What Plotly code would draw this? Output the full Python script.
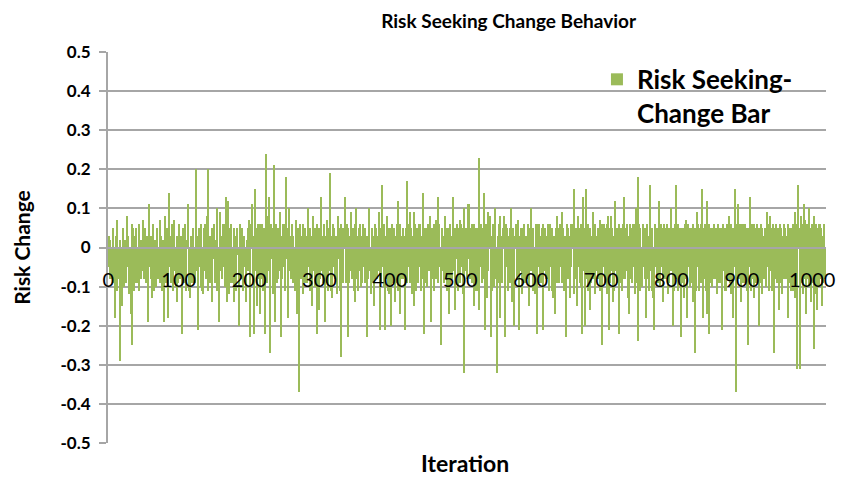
import plotly.graph_objects as go

# Risk seeking change per iteration (in hundredths)
change_rows = [
    [-5, 3, -8, 2, -8, -3, 5, -9, -2, -6, -18, 3, -11, 7, -5, -8, -29, 2, -9, -15],
    [-6, 5, -3, -10, 2, -9, 8, -5, 3, -12, -2, -8, -17, 6, -25, 5, -11, 3, -6, -9],
    [5, -9, -3, 6, -11, -5, 2, -8, -6, 7, -3, -8, 5, -9, -2, 3, -19, -9, 11, -5],
    [-8, 3, -13, -5, 6, -11, 2, -6, -10, 5, -3, -8, -8, 7, -9, 3, -5, -11, 2, -19],
    [-3, 8, -9, 5, -6, -18, 14, -5, 3, -9, -8, 6, -11, -2, 7, -6, -10, -14, 3, -9],
    [6, -5, -8, 3, -8, -22, 5, -9, -3, 6, -11, -6, 2, 11, -11, -5, -13, 3, -8, -9],
    [5, -9, -3, -9, 20, -6, 3, -21, -8, 5, -5, -10, 6, -11, -2, -12, 5, 6, -6, -8],
    [8, -11, 20, -5, 3, -9, -6, -14, 5, -3, 6, -9, -8, 2, 10, -11, -5, -19, 9, -6],
    [3, -8, -8, 6, -5, 6, -10, 13, -14, 5, 12, -12, -6, 5, -9, 6, -3, -9, -14, 5],
    [-6, 3, -11, 5, -2, -9, -20, 6, -8, -3, 5, -9, -11, 3, -5, -8, -14, 2, -6, 5],
    [7, -5, -23, 6, 11, -9, 3, -22, 15, -6, 5, -15, -3, 6, -8, 6, -17, 5, -8, 6],
    [-11, 5, -5, -22, 24, 6, -9, 8, -6, 13, -27, 6, -3, 5, -12, 5, 21, -19, 6, -9],
    [5, -8, 5, -6, 9, 3, -23, -8, 6, -5, 6, -11, -3, 18, 5, -18, -9, 10, -6, 3],
    [-8, 6, -9, 3, -5, -11, 7, -9, -17, 5, -6, -37, 6, -8, 3, -8, 6, -12, -3, 5],
    [-9, 3, -9, 6, 10, -5, -11, 5, -8, -15, 3, 8, -6, -10, 5, -3, -22, 6, -9, -16],
    [5, -8, 13, -6, 3, -9, 6, -5, -19, 3, 7, -9, -11, 5, -6, 19, -11, 3, -13, 6],
    [-5, 5, -8, 3, -8, -12, 8, -3, 5, -11, 6, -28, -6, 5, -9, 3, 13, -9, -5, 6],
    [-23, 5, -9, 3, -6, 9, -8, 5, -3, -11, -14, 6, 10, -8, 3, -11, 5, -6, 6, -10],
    [3, -9, 6, -5, -9, 5, -8, -23, 3, -8, 5, 10, -6, -12, 5, -9, 3, -5, -15, 6],
    [-8, 5, -8, 3, 9, -6, -21, 5, -9, 16, -5, -10, 6, -21, 3, -8, 8, -11, 5, -12],
    [5, -20, -6, 6, -5, -9, 5, -14, 3, -9, 6, -11, 12, -5, -17, 6, -8, 3, -8, 5],
    [-6, 3, -21, 5, 17, -9, -5, 6, 9, -9, 5, -8, -12, 3, 9, -15, 6, -11, 5, -6],
    [-9, 6, -5, 6, -11, 3, -8, 14, -22, 5, -9, 5, -3, -10, 6, -6, 5, 8, -11, -19],
    [5, -8, -11, 6, -5, 7, -8, 3, 13, -9, 6, -5, -13, -25, 5, -6, 3, -9, 8, -8],
    [5, -11, 5, -5, -17, 6, -10, 3, -8, 13, -6, 5, -8, -16, 5, -3, 6, -11, 5, 7],
    [-9, 6, -5, 5, -12, -32, 10, -6, 5, -8, 5, 11, -3, 11, -8, 5, -9, 6, -9, -15],
    [6, -11, 5, -6, -11, 5, 23, -16, 6, -5, 6, -9, -8, 5, 14, -21, 6, -9, -13, 9],
    [-6, 5, 8, -23, 3, -11, 6, -5, -10, 10, 5, -8, -32, 3, -9, 6, -18, 8, -6, 3],
    [-9, 5, 8, -8, -23, 6, -5, 5, -11, 3, -9, 5, 10, -6, -14, 5, -11, -20, 3, 6],
    [-8, 5, 7, -8, -21, 3, 5, -6, -12, 5, -9, 6, -5, -9, 3, -8, 6, -3, -15, 5],
    [10, -6, 5, -11, 5, -5, -12, 6, -8, -22, 6, -5, 6, -9, 3, -9, 5, 6, -21, 5],
    [-6, 5, -8, 3, 6, -8, -11, 6, -5, 5, -11, 5, -13, 3, -6, -17, 5, 8, -9, 5],
    [-9, 6, -5, 5, 9, -9, 5, -11, -6, 3, -23, 6, -8, 5, -8, 3, -13, 6, -5, 5],
    [6, -12, 15, -8, 5, -8, -15, 8, -5, 5, -9, 6, -10, -22, 13, -6, 5, -20, 15, -8],
    [5, -11, 6, -5, -16, 5, -9, 3, 9, -8, 5, -12, 6, -6, 3, -8, 5, -5, -11, 7],
    [-8, -25, 6, -5, 6, -9, 5, -8, 6, -12, 8, -21, 5, -9, 8, -6, 5, -14, 3, -11],
    [12, -6, 5, -9, 5, -22, 6, -9, 5, -5, -11, 6, -8, 13, -8, 5, -6, 6, -13, 3],
    [-17, 6, -8, 5, -9, 6, -5, 6, -12, 10, -9, 5, 18, -24, 6, -11, 5, -8, -10, 6],
    [-5, 5, -8, 5, -18, 6, -8, 3, -11, 16, -6, 5, -11, 5, -13, -21, 6, -5, 5, -9],
    [5, -9, 12, -6, -10, 6, -5, 5, -14, 6, -8, 5, -8, 6, -5, -12, 5, -9, 5, 10],
    [-6, 5, -20, 5, -11, 6, 16, -8, 5, -11, 6, -9, 5, -23, 5, -6, -9, 5, -13, 6],
    [7, -8, -18, 6, -5, 5, -10, 5, -9, 5, -14, 6, -6, -27, 5, -11, 9, -5, 6, -11],
    [5, -9, 6, -9, 15, -18, 5, -8, 6, -11, -17, 12, -5, -22, 6, -9, 5, -10, 5, -6],
    [6, -8, 5, -8, 5, -12, 6, -5, -9, 5, 5, -9, -21, 6, -6, 5, -11, 5, -11, 6],
    [-8, 5, 8, -9, 6, -12, 5, -6, -18, 5, -5, 15, -37, 6, 11, -8, 5, -8, 6, -14],
    [6, -9, 5, 6, -9, 6, -6, 5, -11, -25, 5, -5, 13, -11, 6, -8, 5, -13, 6, -9],
    [5, -9, 6, -6, -20, 5, -9, 6, -12, 5, -8, 3, -8, 5, -6, -10, 9, -5, 6, -11],
    [8, -6, 5, -11, 6, -9, -27, 5, -8, 6, -9, 5, -6, -16, 6, -9, 5, -12, 3, -8],
    [6, -8, 5, -8, 3, -18, 6, -9, -5, 5, -11, 5, -11, 6, -6, 9, -13, 5, -31, 6],
    [16, 5, -9, -31, 8, -9, 6, -12, 11, -8, 7, -17, 6, -8, 6, 10, -10, 5, -14, 6],
    [-9, 5, 8, -26, -9, 6, -12, -16, 5, 6, -10, 6, -8, 5, -15, 3, -9, 6, -8, -5],
]
risk_change = [v / 100 for row in change_rows for v in row]
iterations = list(range(len(risk_change)))

x_ticks = [0, 100, 200, 300, 400, 500, 600, 700, 800, 900, 1000]
y_ticks = [0.5, 0.4, 0.3, 0.2, 0.1, 0, -0.1, -0.2, -0.3, -0.4, -0.5]
y_labels = ["0.5", "0.4", "0.3", "0.2", "0.1", "0", "-0.1", "-0.2", "-0.3", "-0.4", "-0.5"]

GREEN = "#9BBB59"
GRID = "#A6A6A6"
FONT = "Lato"

fig = go.Figure()
# bars are a bit wider than one slot so neighbours overlap, like Excel's 1px minimum
fig.add_trace(go.Bar(
    x=iterations, y=risk_change, width=1.6,
    name="<b>Risk Seeking-<br>Change Bar</b>",
    marker=dict(color=GREEN, line=dict(width=0)),
))

# page body has an 8px margin, so the figure is 8px smaller than the window
fig.update_layout(
    width=846, height=471,
    margin=dict(l=100, r=28, t=44, b=36),
    paper_bgcolor="white", plot_bgcolor="white",
    bargap=0,
    font=dict(family=FONT, color="black"),
    title=dict(text="<b>Risk Seeking Change Behavior</b>", x=0.558, xref="paper",
               y=0.972, yanchor="middle", xanchor="center",
               font=dict(size=19, family=FONT, color="black")),
    showlegend=True,
    legend=dict(x=0.681, y=0.99, xanchor="left", yanchor="top",
                bgcolor="rgba(0,0,0,0)", valign="top",
                font=dict(size=26, family=FONT, color="black")),
    xaxis=dict(
        range=[-0.5, len(risk_change) - 0.5],
        anchor="free", position=0.5,
        tickvals=x_ticks, ticktext=[str(t) for t in x_ticks],
        ticks="", ticklabelstandoff=14,
        tickfont=dict(size=20, family=FONT, color="black"),
        showgrid=False, zeroline=False,
        showline=True, linecolor=GRID, linewidth=2,
    ),
    yaxis=dict(
        range=[-0.5, 0.5],
        tickvals=y_ticks, ticktext=["<b>%s</b>" % s for s in y_labels],
        tickfont=dict(size=17, family=FONT, color="black"),
        ticks="outside", ticklen=7, tickcolor=GRID, tickwidth=1.5,
        ticklabelstandoff=5,
        showgrid=True, gridcolor=GRID, gridwidth=2,
        zeroline=False,
        showline=True, linecolor=GRID, linewidth=2,
        title=dict(text="<b>Risk Change</b>", standoff=24,
                   font=dict(size=21, family=FONT, color="black")),
    ),
    annotations=[dict(text="<b>Iteration</b>", xref="paper", yref="paper",
                      x=0.497, y=-0.05, xanchor="center", yanchor="middle",
                      showarrow=False, font=dict(size=23, family=FONT, color="black"))],
)

fig.write_html("out.html")
